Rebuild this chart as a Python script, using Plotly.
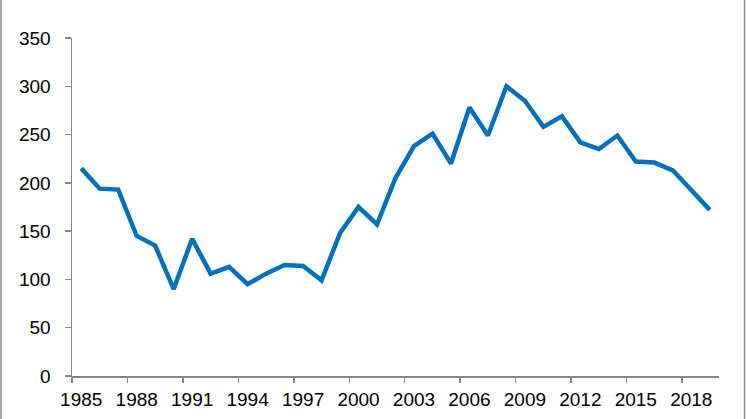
import plotly.graph_objects as go

years = list(range(1985, 2020))
values = [215, 194, 193, 145, 135, 90, 142, 106, 113, 95, 106, 115, 114, 99, 148,
          175, 157, 205, 238, 251, 220, 278, 249, 300, 285, 258, 269, 242, 235, 249,
          222, 221, 213, 193, 172]
tick_years = list(range(1985, 2019, 3))
tick_labels = [str(y) for y in tick_years]
boundary_ticks = [y - 0.5 for y in tick_years]

fig = go.Figure()
fig.add_trace(go.Scatter(x=years, y=values, mode="lines",
                         line=dict(color="#0070C0", width=4.5),
                         hoverinfo="skip"))

axis_col = "#868686"
font = dict(family="Liberation Sans, Arial, sans-serif", size=19, color="#000000")

fig.update_layout(
    width=746, height=419,
    margin=dict(l=72, r=27, t=38, b=43),
    paper_bgcolor="white", plot_bgcolor="white",
    showlegend=False,
    font=font,
    xaxis=dict(
        range=[1984.5, 2019.5],
        tickmode="array", tickvals=tick_years, ticktext=tick_labels,
        ticks="outside", ticklen=0, tickcolor="white",
        showgrid=False, zeroline=False,
        showline=True, linecolor=axis_col, linewidth=1.5,
        minor=dict(tickmode="array", tickvals=boundary_ticks, ticks="outside",
                   ticklen=5, tickcolor=axis_col, tickwidth=1.5, showgrid=False),
        tickfont=font, ticklabelstandoff=6, automargin=False,
    ),
    yaxis=dict(
        range=[0, 350], tick0=0, dtick=50,
        ticks="outside", ticklen=6, tickcolor=axis_col, tickwidth=1.5,
        showgrid=False, zeroline=False,
        showline=True, linecolor=axis_col, linewidth=1.5,
        tickfont=font, ticklabelstandoff=10, automargin=False,
    ),
    shapes=[
        dict(type="line", xref="paper", yref="paper", x0=-71/647, x1=-71/647,
             y0=-0.2, y1=1.2, line=dict(color="#888888", width=1.5)),
        dict(type="line", xref="paper", yref="paper", x0=(744.5-72)/647, x1=(744.5-72)/647,
             y0=-0.2, y1=1.2, line=dict(color="#888888", width=1.5)),
    ],
)

fig.write_html("out.html",
               config={"displayModeBar": False, "staticPlot": True},
               post_script="document.body.style.margin='0';document.body.style.overflow='hidden';")
